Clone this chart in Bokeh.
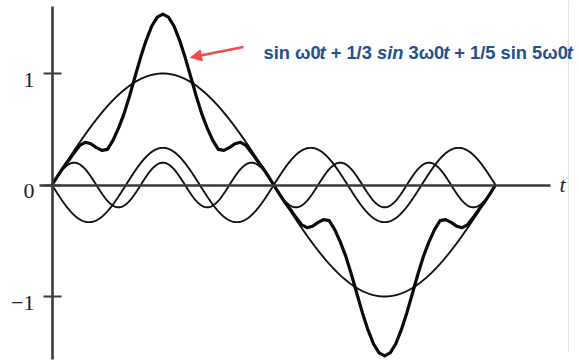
import numpy as np
from bokeh.plotting import figure
from bokeh.models import (Range1d, LinearAxis, FixedTicker, Label, Arrow, NormalHead,
                          ColumnDataSource)
from bokeh.core.properties import value
from bokeh.embed import file_html
from bokeh.resources import INLINE

# ---- data ----
harmonic_orders = [1, 3, 5]
harmonic_amplitudes = [1.0, -1.0 / 3.0, 1.0 / 5.0]
y_ticks = [-1, 0, 1]
y_tick_labels = ["\u22121", "0", "1"]
period = 2 * np.pi
n_samples = 721

# resulting (summed) wave, 80 equal steps over one period
sum_wave = [
    0.0, 0.08, 0.155, 0.22, 0.29, 0.355, 0.383, 0.37, 0.335, 0.31,
    0.32, 0.40, 0.51, 0.64, 0.80, 0.975, 1.147, 1.30, 1.426, 1.506,
    1.533, 1.506, 1.426, 1.30, 1.147, 0.975, 0.80, 0.64, 0.51, 0.40,
    0.32, 0.31, 0.335, 0.37, 0.383, 0.355, 0.29, 0.22, 0.155, 0.08,
    0.0, -0.08, -0.155, -0.22, -0.29, -0.355, -0.383, -0.37, -0.335, -0.31,
    -0.32, -0.40, -0.51, -0.64, -0.80, -0.975, -1.147, -1.30, -1.426, -1.506,
    -1.533, -1.506, -1.426, -1.30, -1.147, -0.975, -0.80, -0.64, -0.51, -0.40,
    -0.32, -0.31, -0.335, -0.37, -0.383, -0.355, -0.29, -0.22, -0.155, -0.08,
    0.0,
]
sum_t = np.linspace(0, period, len(sum_wave))

# ---- pixel <-> data mapping (frame is the whole 579x361 page) ----
X0_PX, X2PI_PX = 51.5, 495.0
Y0_PX, UNIT_PX = 184.5, 111.5
def px2x(px):
    return (px - X0_PX) / (X2PI_PX - X0_PX) * period
def py2y(py):
    return (Y0_PX - py) / UNIT_PX

W, H = 579, 361
p = figure(width=W, height=H, x_range=Range1d(px2x(0), px2x(W)),
           y_range=Range1d(py2y(H), py2y(0)), output_backend="svg",
           toolbar_location=None, min_border=0, x_axis_type=None, y_axis_type=None)
p.grid.visible = False
p.outline_line_color = None
p.background_fill_color = "white"
p.border_fill_color = "white"

AX_COL = "#3a3a3a"
yaxis = LinearAxis(fixed_location=0, bounds=(py2y(359), py2y(6)),
                   ticker=FixedTicker(ticks=y_ticks),
                   major_tick_in=9, major_tick_out=9, minor_tick_line_color=None,
                   axis_line_color=AX_COL, axis_line_width=2.6,
                   major_tick_line_color=AX_COL, major_tick_line_width=2.2,
                   major_label_text_font_size="0px", major_label_text_color=None)
p.add_layout(yaxis, "left")

xaxis = LinearAxis(fixed_location=0, bounds=(px2x(39), px2x(550)),
                   ticker=FixedTicker(ticks=[]), minor_tick_line_color=None,
                   major_tick_line_color=None, major_label_text_font_size="0px",
                   axis_line_color=AX_COL, axis_line_width=2.6)
p.add_layout(xaxis, "below")

# y tick labels (serif, right-aligned left of the axis)
lab_src = ColumnDataSource(dict(x=[px2x(34)] * len(y_ticks),
                                y=[v - 6.3 / UNIT_PX for v in y_ticks],
                                text=y_tick_labels))
p.text(x="x", y="y", text="text", source=lab_src, text_font=value("Liberation Serif"),
       text_font_size="22px", text_color="#222222", text_align="right",
       text_baseline="alphabetic")

p.add_layout(Label(x=px2x(562), y=py2y(184), text="t", text_font="Liberation Serif",
                   text_font_style="italic", text_font_size="22px", text_color="#222222",
                   text_align="center", text_baseline="middle"))

# faint right border line
p.segment(x0=[px2x(568)], y0=[py2y(0)], x1=[px2x(568)], y1=[py2y(352)],
          line_color="#e4e4e4", line_width=1)

# ---- curves ----
t = np.linspace(0, period, n_samples)
components = [a * np.sin(k * t) for k, a in zip(harmonic_orders, harmonic_amplitudes)]
for comp in components:
    p.line(x=t, y=comp, line_color="#111111", line_width=1.9)
p.line(x=sum_t, y=sum_wave, line_color="#0a0a0a", line_width=3.2, line_join="round")

# ---- annotation ----
p.add_layout(Arrow(end=NormalHead(size=11, fill_color="#ef4b4b", line_color="#ef4b4b"),
                   x_start=px2x(243), y_start=py2y(46.5), x_end=px2x(190), y_end=py2y(57),
                   line_color="#ef4b4b", line_width=2.5))

TXT_COL = "#22508f"
FS = 18.3
SP = 278  # space advance (1/1000 em)
# (text, style, advance in 1/1000 em, space after)
segments = [
    ("sin \u03c90", "bold", 3060, 0),
    ("t", "bold italic", 333, SP),
    ("+ 1/3", "bold", 2252, SP),
    ("sin", "bold italic", 1445, SP),
    ("3\u03c90", "bold", 1893, 0),
    ("t", "bold italic", 333, SP),
    ("+ 1/5 sin 5\u03c90", "bold", 6146, 0),
    ("t", "bold italic", 333, 0),
]
xpx = 263.0
for txt, style, adv, gap in segments:
    p.add_layout(Label(x=px2x(xpx), y=py2y(52), text=txt, text_font="Liberation Sans",
                       text_font_style=style, text_font_size=f"{FS}px", text_color=TXT_COL,
                       text_align="left", text_baseline="alphabetic"))
    xpx += (adv + gap) * FS / 1000.0

open("out.html", "w").write(file_html(p, INLINE))
